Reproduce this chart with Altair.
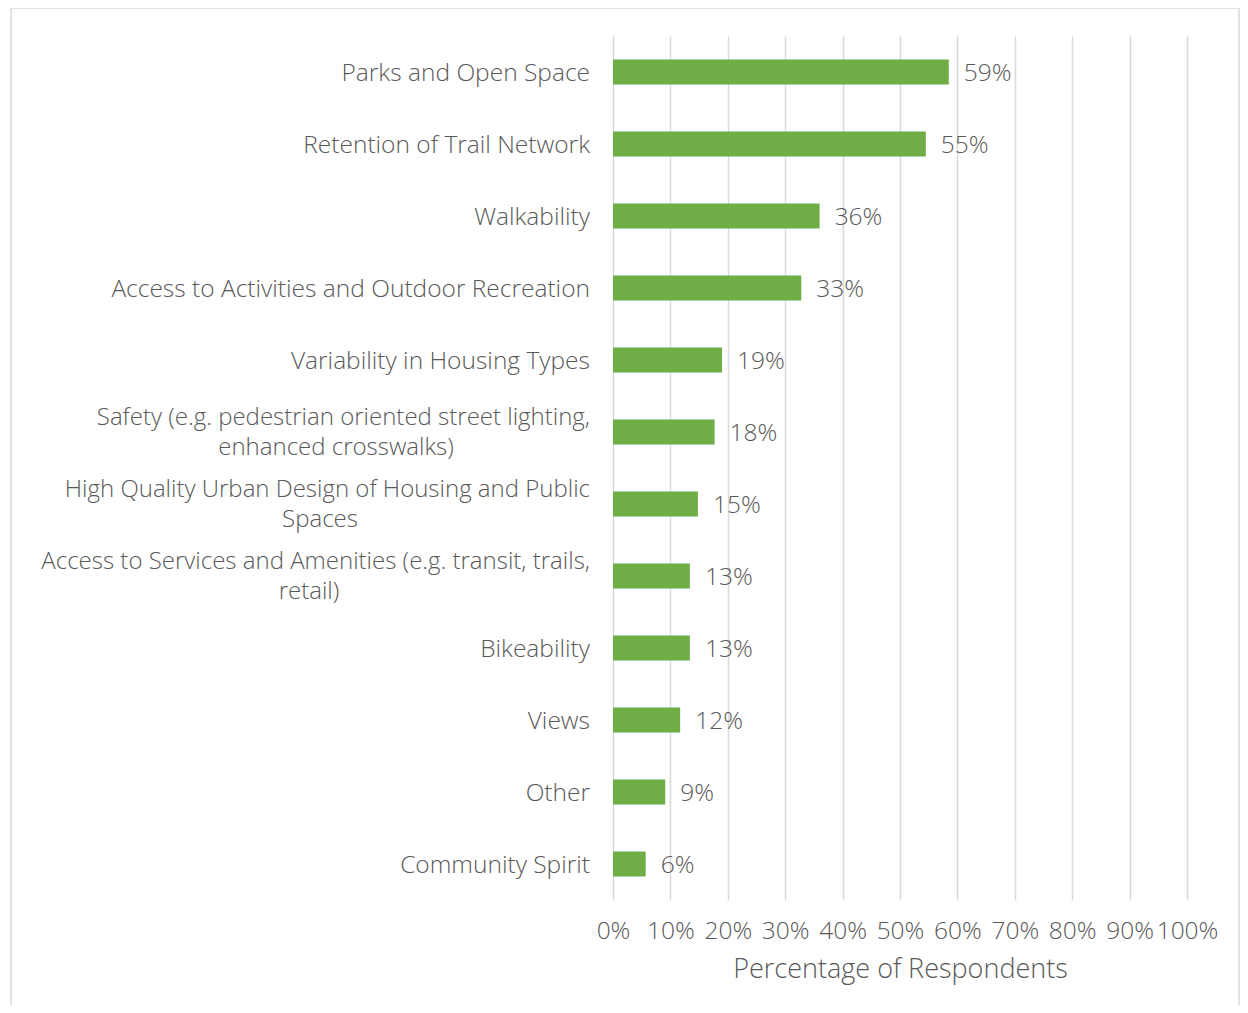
import altair as alt
import pandas as pd

line1 = [
    "Parks and Open Space",
    "Retention of Trail Network",
    "Walkability",
    "Access to Activities and Outdoor Recreation",
    "Variability in Housing Types",
    "Safety (e.g. pedestrian oriented street lighting,",
    "High Quality Urban Design of Housing and Public",
    "Access to Services and Amenities (e.g. transit, trails,",
    "Bikeability",
    "Views",
    "Other",
    "Community Spirit",
]
line2 = ["", "", "", "", "", "enhanced crosswalks)", "Spaces", "retail)", "", "", "", ""]
values = [0.585, 0.545, 0.36, 0.328, 0.19, 0.177, 0.148, 0.134, 0.134, 0.117, 0.091, 0.057]
value_labels = ["59%", "55%", "36%", "33%", "19%", "18%", "15%", "13%", "13%", "12%", "9%", "6%"]

# horizontal centre (px, relative to plot left edge) of the two-line label blocks
line2_center = {"enhanced crosswalks)": -277, "Spaces": -293, "retail)": -304}

df = pd.DataFrame({
    "cat": [f"{i:02d}" for i in range(len(line1))],
    "line1": line1,
    "line2": line2,
    "value": values,
    "label": value_labels,
})
df["two"] = df["line2"] != ""

FONT = "Open Sans"
TXT = "#595959"
GREEN = "#70AD47"
FS = 24
W = 300
order = list(df["cat"])

y = alt.Y("cat:N", sort=order, axis=None,
          scale=alt.Scale(paddingInner=0.0, paddingOuter=0.0))
x = alt.X("value:Q",
          scale=alt.Scale(domain=[0, 1]),
          axis=alt.Axis(format=".0%", values=[i / 10 for i in range(11)],
                        title="Percentage of Respondents", grid=True,
                        gridColor="#d9d9d9", gridWidth=1.5, domain=False,
                        ticks=False, labelPadding=19, labelFont=FONT,
                        labelFontSize=24.5, labelFontWeight=W, labelColor=TXT,
                        titleFont=FONT, titleFontSize=27, titleFontWeight=W,
                        titleColor=TXT, titlePadding=14, labelFlush=False))

base = alt.Chart(df)

bars = base.mark_bar(color=GREEN, size=25).encode(x=x, y=y)

vlabels = base.mark_text(align="left", baseline="middle", dx=15, dy=1.5,
                         font=FONT, fontSize=24.5, fontWeight=W, color=TXT).encode(
    x="value:Q", y=alt.Y("cat:N", sort=order), text="label:N")

single = base.transform_filter("!datum.two").mark_text(
    align="right", baseline="middle", dy=1.5, font=FONT, fontSize=24.5,
    fontWeight=W, color=TXT).encode(
    x=alt.value(-23), y=alt.Y("cat:N", sort=order), text="line1:N")

first = base.transform_filter("datum.two").mark_text(
    align="right", baseline="middle", dy=-14, font=FONT, fontSize=FS,
    fontWeight=W, color=TXT).encode(x=alt.value(-23), y=alt.Y("cat:N", sort=order),
                                    text="line1:N")

second_layers = []
for txt, cx in line2_center.items():
    second_layers.append(
        base.transform_filter(alt.datum.line2 == txt).mark_text(
            align="center", baseline="middle", dy=16, font=FONT,
            fontSize=FS, fontWeight=W, color=TXT).encode(
            x=alt.value(cx), y=alt.Y("cat:N", sort=order), text="line2:N"))

border = alt.Chart(alt.Data(values=[{}])).mark_rect(
    fill=None, stroke="#d9d9d9", strokeWidth=1.5).encode(
    x=alt.value(-602), x2=alt.value(626), y=alt.value(-28), y2=alt.value(1000))

chart = alt.layer(border, bars, vlabels, single, first, *second_layers).properties(
    width=574, height=864,
    autosize=alt.AutoSizeParams(type="none"),
    padding={"left": 605, "top": 28, "right": 53, "bottom": 105},
).configure(background="white").configure_view(stroke=None)

chart.save("out.html", embed_options={"renderer": "svg", "actions": False})
